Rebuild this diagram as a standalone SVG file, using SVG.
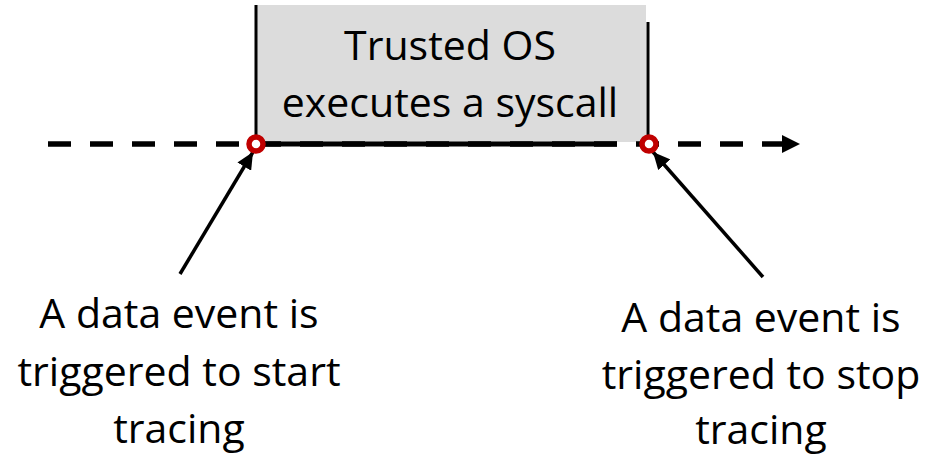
<svg xmlns="http://www.w3.org/2000/svg" width="928" height="455" viewBox="0 0 928 455">
  <style>
    .label { font-family: "Open Sans", "Liberation Sans", sans-serif; font-size: 41px; fill: #000; text-anchor: middle; }
    .timeline { stroke: #000; stroke-width: 5.5; fill: none; stroke-dasharray: 23 19; }
    .edge { stroke: #000; stroke-width: 3; fill: none; }
    .pointer { stroke: #000; stroke-width: 3.5; fill: none; marker-end: url(#head); }
    .event { fill: #fff; stroke: #c00000; stroke-width: 5.5; }
  </style>
  <defs>
    <marker id="head" markerUnits="userSpaceOnUse" markerWidth="20" markerHeight="16" refX="17" refY="8" orient="auto">
      <path d="M0,0 L17,8 L0,16 Z" fill="#000"/>
    </marker>
  </defs>
  <rect width="928" height="455" fill="#fff"/>

  <g id="syscall-block">
    <rect x="256" y="5" width="390" height="137" fill="#dcdcdc"/>
    <line class="edge" x1="256" y1="5" x2="256" y2="144"/>
    <line class="edge" x1="648" y1="22" x2="648" y2="140"/>
    <text class="label" x="450" y="60">Trusted OS</text>
    <text class="label" x="450" y="117">executes a syscall</text>
  </g>

  <g id="connectors">
    <line class="timeline" x1="48" y1="144" x2="784" y2="144"/>
    <polygon points="782,135 800,144 782,153" fill="#000"/>
    <line x1="256" y1="144" x2="617" y2="144" stroke="#000" stroke-width="5"/>
    <line class="pointer" x1="180" y1="274" x2="253" y2="152"/>
    <line class="pointer" x1="763" y1="277" x2="653" y2="152"/>
  </g>

  <g id="start-event">
    <circle class="event" cx="256" cy="144" r="7"/>
  </g>
  <g id="stop-event">
    <circle class="event" cx="649" cy="144" r="7"/>
  </g>

  <g id="start-note">
    <text class="label" x="179" y="328">A data event is</text>
    <text class="label" x="179" y="386">triggered to start</text>
    <text class="label" x="179" y="443">tracing</text>
  </g>
  <g id="stop-note">
    <text class="label" x="761" y="332">A data event is</text>
    <text class="label" x="761" y="389">triggered to stop</text>
    <text class="label" x="761" y="444">tracing</text>
  </g>
</svg>
